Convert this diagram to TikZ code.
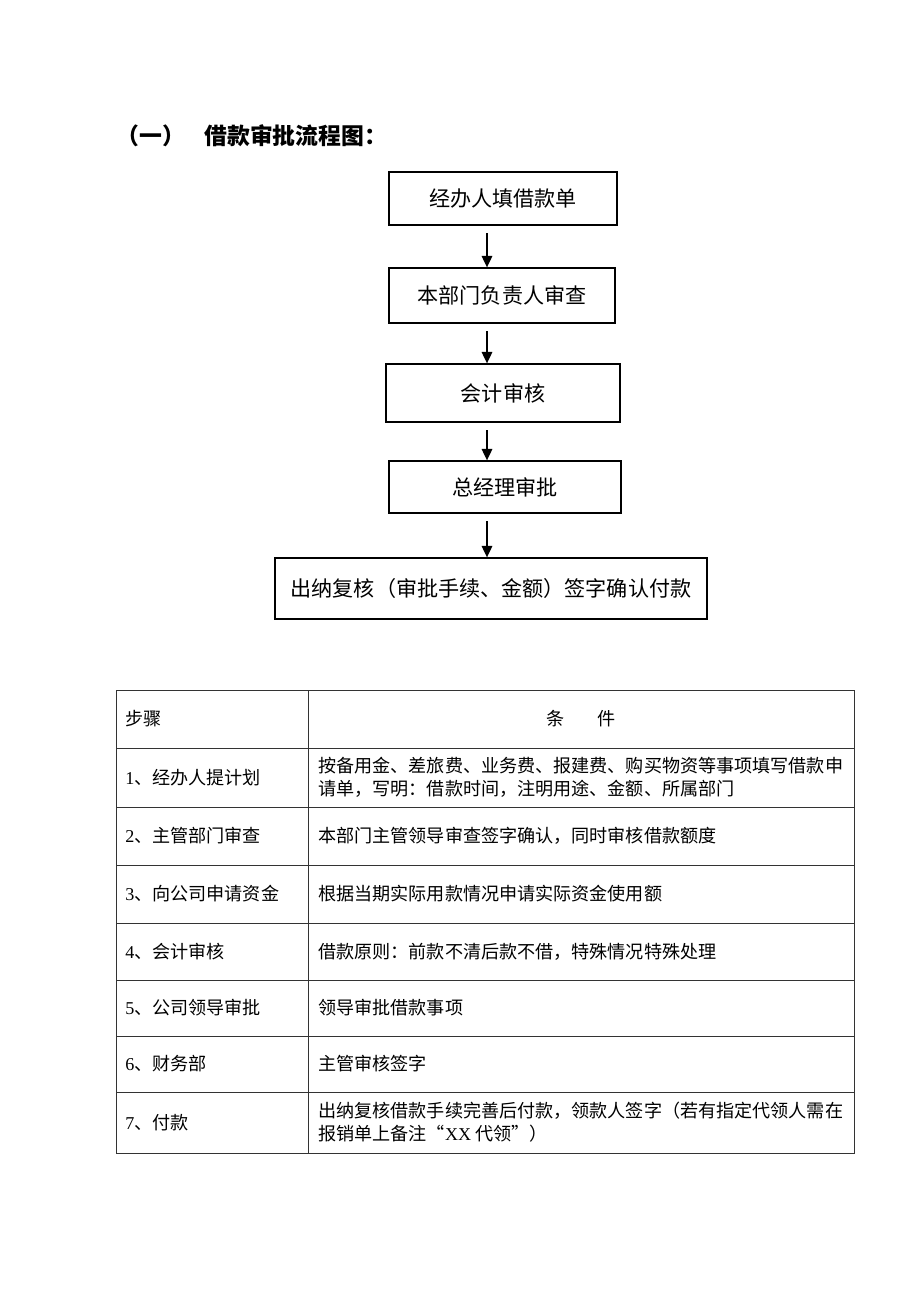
\documentclass[tikz,border=0pt]{standalone}
\usepackage{fontspec}
\setmainfont{Liberation Serif}
\newfontfamily\cjk{Noto Sans CJK SC}
\usetikzlibrary{arrows.meta}

\begin{document}
\begin{tikzpicture}
  [x=0.02cm,y=-0.02cm,
   box/.style={draw,line width=0.75pt,inner sep=0pt,font=\cjk\fontsize{12}{14}\selectfont},
   cell/.style={anchor=west,inner sep=0pt,align=left,font=\cjk\fontsize{10.3}{13}\selectfont},
   tab/.style={line width=0.5pt,draw=black!80},
   flow/.style={-{Triangle[length=6.5pt,width=6pt]},line width=0.9pt}]
  \useasboundingbox (0,0) rectangle (920,1302);

  \node[anchor=west,inner sep=0pt,font=\cjk\bfseries\fontsize{13}{15}\selectfont] (num) at (116,136) {（一）};
  \node[anchor=west,inner sep=0pt,font=\cjk\bfseries\fontsize{13}{15}\selectfont] (title) at (204,136) {借款审批流程图：};

  \node[box,minimum width=4.56cm,minimum height=1.06cm] (b1) at (503,198.5) {经办人填借款单};
  \node[box,minimum width=4.52cm,minimum height=1.10cm] (b2) at (502,295.5) {本部门负责人审查};
  \node[box,minimum width=4.68cm,minimum height=1.16cm] (b3) at (503,393) {会计审核};
  \node[box,minimum width=4.64cm,minimum height=1.04cm] (b4) at (505,487) {总经理审批};
  \node[box,minimum width=8.64cm,minimum height=1.22cm] (b5) at (491,588.5) {出纳复核（审批手续、金额）签字确认付款};
  \coordinate (ax) at (487,0);

  \foreach \from/\to in {b1/b2,b2/b3,b3/b4,b4/b5}
    \draw[flow] ([yshift=-0.15cm]\from.south -| ax) -- (\to.north -| ax);

  \draw[tab] (116,690) rectangle (854,1153);
  \draw[tab] (308,690) -- (308,1153);
  \foreach \y in {748,807,865,923,980,1036,1092}
    \draw[tab] (116,\y) -- (854,\y);

  \node[cell] (s0) at (125,719) {步骤};
  \node[cell,anchor=center] (c0) at (581,719) {条\hspace{1.8em}件};
  \node[cell] (s1) at (125,777.5) {{\rmfamily 1}、经办人提计划};
  \node[cell] (c1) at (318,777.5) {按备用金、差旅费、业务费、报建费、购买物资等事项填写借款申\\请单，写明：借款时间，注明用途、金额、所属部门};
  \node[cell] (s2) at (125,836) {{\rmfamily 2}、主管部门审查};
  \node[cell] (c2) at (318,836) {本部门主管领导审查签字确认，同时审核借款额度};
  \node[cell] (s3) at (125,894) {{\rmfamily 3}、向公司申请资金};
  \node[cell] (c3) at (318,894) {根据当期实际用款情况申请实际资金使用额};
  \node[cell] (s4) at (125,951.5) {{\rmfamily 4}、会计审核};
  \node[cell] (c4) at (318,951.5) {借款原则：前款不清后款不借，特殊情况特殊处理};
  \node[cell] (s5) at (125,1008) {{\rmfamily 5}、公司领导审批};
  \node[cell] (c5) at (318,1008) {领导审批借款事项};
  \node[cell] (s6) at (125,1064) {{\rmfamily 6}、财务部};
  \node[cell] (c6) at (318,1064) {主管审核签字};
  \node[cell] (s7) at (125,1122.5) {{\rmfamily 7}、付款};
  \node[cell] (c7) at (318,1122.5) {出纳复核借款手续完善后付款，领款人签字（若有指定代领人需在\\报销单上备注“{\rmfamily XX} 代领”）};
\end{tikzpicture}
\end{document}
